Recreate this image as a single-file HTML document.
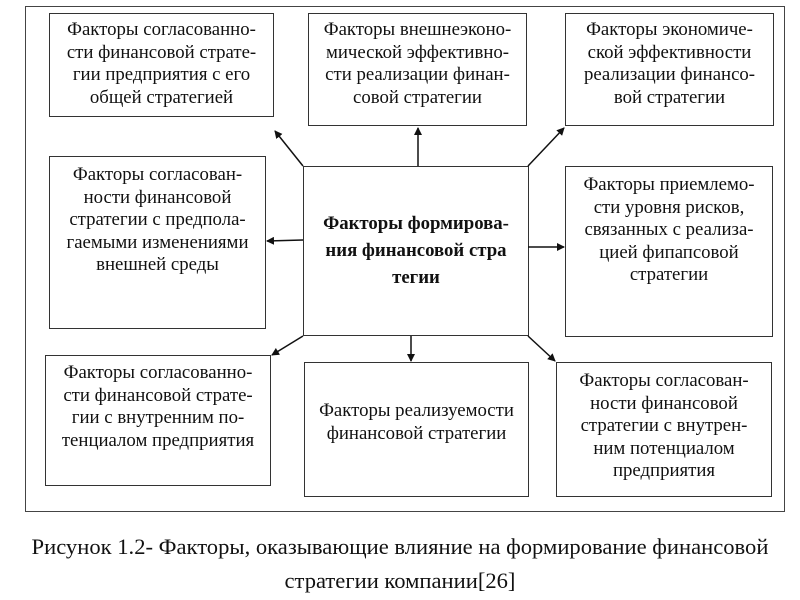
<!DOCTYPE html>
<html><head><meta charset="utf-8"><style>
body{margin:0;width:800px;height:600px;background:#fff;position:relative;overflow:hidden;font-family:"Liberation Serif","Noto Serif CJK SC",serif;color:#111}
.b{position:absolute;border:1.3px solid #333;box-sizing:border-box;text-align:center;font-size:18.8px;line-height:22.6px;padding-top:5px;white-space:nowrap}
.cap{position:absolute;left:0;width:800px;text-align:center;font-size:22.6px}
</style></head><body>
<div class="b" style="left:25px;top:6px;width:760px;height:506px;border-color:#444"></div>
<div class="b" style="left:49px;top:13px;width:225px;height:104px">Факторы согласованно-<br>сти финансовой страте-<br>гии предприятия с его<br>общей стратегией</div>
<div class="b" style="left:308px;top:13px;width:219px;height:113px">Факторы внешнеэконо-<br>мической эффективно-<br>сти реализации финан-<br>совой стратегии</div>
<div class="b" style="left:565px;top:13px;width:209px;height:113px">Факторы экономиче-<br>ской эффективности<br>реализации финансо-<br>вой стратегии</div>
<div class="b" style="left:49px;top:156px;width:217px;height:173px;padding-top:7px">Факторы согласован-<br>ности финансовой<br>стратегии с предпола-<br>гаемыми изменениями<br>внешней среды</div>
<div class="b" style="left:303px;top:166px;width:226px;height:170px;padding-top:43px;font-weight:bold;line-height:27px">Факторы формирова-<br>ния финансовой стра<br>тегии</div>
<div class="b" style="left:565px;top:166px;width:208px;height:171px;padding-top:7px">Факторы приемлемо-<br>сти уровня рисков,<br>связанных с реализа-<br>цией фипапсовой<br>стратегии</div>
<div class="b" style="left:45px;top:355px;width:226px;height:131px;padding-top:6px">Факторы согласованно-<br>сти финансовой страте-<br>гии с внутренним по-<br>тенциалом предприятия</div>
<div class="b" style="left:304px;top:362px;width:225px;height:135px;padding-top:37px">Факторы реализуемости<br>финансовой стратегии</div>
<div class="b" style="left:556px;top:362px;width:216px;height:135px;padding-top:7px">Факторы согласован-<br>ности финансовой<br>стратегии с внутрен-<br>ним потенциалом<br>предприятия</div>
<svg style="position:absolute;left:0;top:0" width="800" height="600">
<defs><marker id="a" markerWidth="8" markerHeight="8" refX="7" refY="4" orient="auto" markerUnits="userSpaceOnUse"><path d="M0,0L8,4L0,8z" fill="#111"/></marker></defs>
<g stroke="#111" stroke-width="1.5" marker-end="url(#a)">
<line x1="303" y1="166" x2="275" y2="131"/>
<line x1="418" y1="166" x2="418" y2="128"/>
<line x1="528" y1="166" x2="564" y2="128"/>
<line x1="303" y1="240" x2="267" y2="241"/>
<line x1="528" y1="247" x2="564" y2="247"/>
<line x1="411" y1="336" x2="411" y2="361"/>
<line x1="303" y1="336" x2="272" y2="355"/>
<line x1="528" y1="336" x2="555" y2="361"/>
</g></svg>
<div class="cap" style="top:534px">Рисунок 1.2- Факторы, оказывающие влияние на формирование финансовой</div>
<div class="cap" style="top:568px">стратегии компании[26]</div>
</body></html>
